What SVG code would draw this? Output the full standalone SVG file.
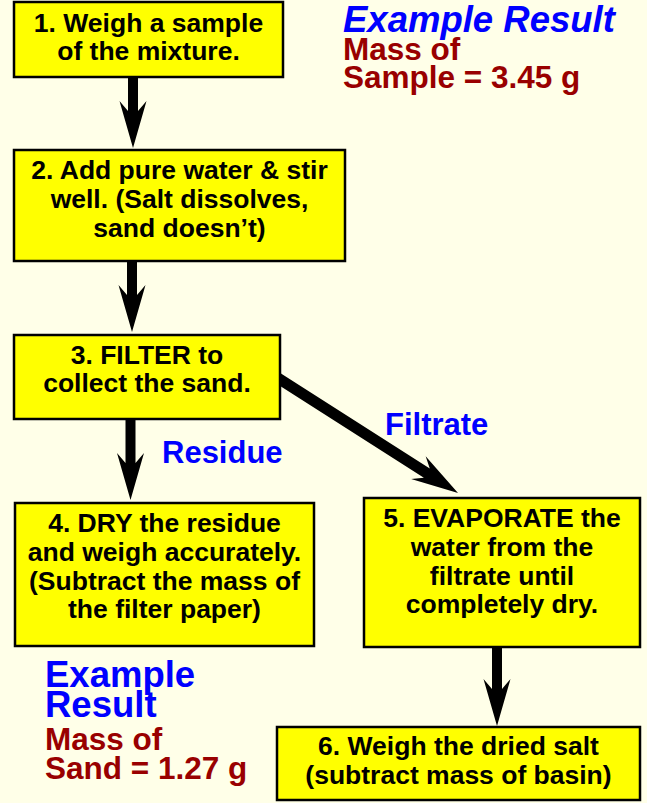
<svg xmlns="http://www.w3.org/2000/svg" width="647" height="803" viewBox="0 0 647 803">
<style>
.box{fill:#FFFF00;stroke:#000;stroke-width:2.5}
.bt{font-family:"Liberation Sans",Arial,sans-serif;font-weight:bold;font-size:26.5px;fill:#000;text-anchor:middle}
.arr{fill:#000}
.lbl{font-family:"Liberation Sans",Arial,sans-serif;font-weight:bold;font-size:31px;fill:#0000FF}
.big{font-family:"Liberation Sans",Arial,sans-serif;font-weight:bold;font-size:36.5px;fill:#0000FF}
.res{font-family:"Liberation Sans",Arial,sans-serif;font-weight:bold;font-size:31.5px;fill:#990000}
</style>
<rect width="647" height="803" fill="#FFFFE8"/>
<g id="connectors">
<polygon class="arr" points="128,77 138,77 138,111 146.5,101 133,148 119.5,101 128,111"/>
<polygon class="arr" points="127,261 137,261 137,295 145.5,285 132,332 118.5,285 127,295"/>
<polygon class="arr" points="125.5,419 135.5,419 135.5,463 144,453 130.5,500 117,453 125.5,463"/>
<polygon class="arr" points="492,647 502,647 502,689 510.5,679 497,726 483.5,679 492,689"/>
<polygon class="arr" transform="translate(281,380) rotate(32.55)" points="-4,-5.5 173,-5.5 163,-13.5 210,0 163,13.5 173,5.5 -4,5.5"/>
<text class="lbl" x="162" y="463">Residue</text>
<text class="lbl" x="385" y="435">Filtrate</text>
</g>
<g id="node1">
<rect class="box" x="14" y="2" width="269" height="75"/>
<text class="bt" x="148.5" y="32">1. Weigh a sample</text>
<text class="bt" x="148.5" y="60">of the mixture.</text>
</g>
<g id="node2">
<rect class="box" x="14" y="150" width="331" height="111"/>
<text class="bt" x="179.5" y="179">2. Add pure water &amp; stir</text>
<text class="bt" x="179.5" y="208">well. (Salt dissolves,</text>
<text class="bt" x="179.5" y="237">sand doesn’t)</text>
</g>
<g id="node3">
<rect class="box" x="14" y="335" width="266" height="84"/>
<text class="bt" x="147" y="364">3. FILTER to</text>
<text class="bt" x="147" y="392">collect the sand.</text>
</g>
<g id="node4">
<rect class="box" x="15" y="503" width="299" height="143"/>
<text class="bt" x="164.5" y="532">4. DRY the residue</text>
<text class="bt" x="164.5" y="561">and weigh accurately.</text>
<text class="bt" x="164.5" y="590">(Subtract the mass of</text>
<text class="bt" x="164.5" y="618">the filter paper)</text>
</g>
<g id="node5">
<rect class="box" x="364" y="498" width="276" height="149"/>
<text class="bt" x="502" y="527">5. EVAPORATE the</text>
<text class="bt" x="502" y="556">water from the</text>
<text class="bt" x="502" y="585">filtrate until</text>
<text class="bt" x="502" y="613">completely dry.</text>
</g>
<g id="node6">
<rect class="box" x="277" y="727" width="363" height="73"/>
<text class="bt" x="458.5" y="755">6. Weigh the dried salt</text>
<text class="bt" x="458.5" y="784">(subtract mass of basin)</text>
</g>
<g id="result1">
<text class="big" x="343" y="32" font-style="italic">Example Result</text>
<text class="res" x="343" y="60">Mass of</text>
<text class="res" x="343" y="88">Sample = 3.45 g</text>
</g>
<g id="result2">
<text class="big" x="45" y="687">Example</text>
<text class="big" x="45" y="717">Result</text>
<text class="res" x="45" y="750">Mass of</text>
<text class="res" x="45" y="779">Sand = 1.27 g</text>
</g>
</svg>
